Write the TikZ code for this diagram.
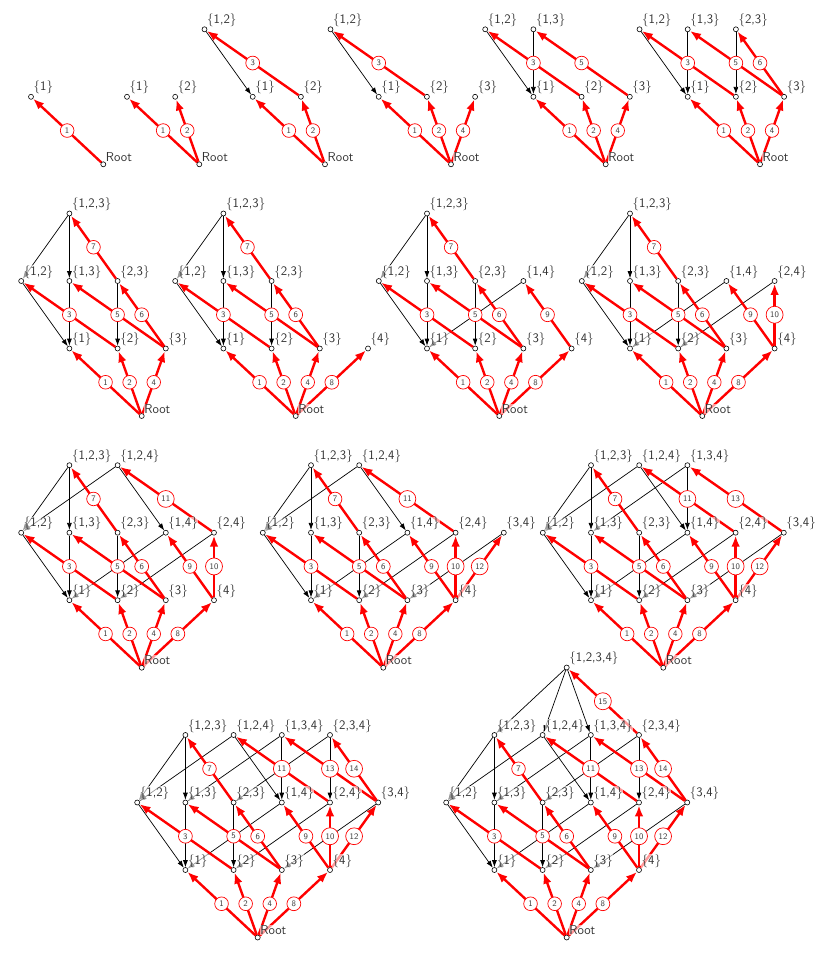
\documentclass[tikz,border=0pt]{standalone}
\usetikzlibrary{arrows.meta}
\tikzset{
 vtx/.style={circle,draw=black,fill=white,line width=0.6pt,inner sep=0pt,minimum size=5pt},
 vlabel/.style={anchor=south west,inner sep=0.5pt,fill=white,fill opacity=0.6,text opacity=1,text=black!80,font=\fontsize{13}{15}\selectfont\sffamily},
 treeedge/.style={draw=red,line width=2.4pt,-{Latex[length=11pt,width=8.5pt]}},
 crossedge/.style={draw=black,line width=0.7pt,-{Latex[length=7pt,width=5pt]}},
 num/.style={circle,draw=red,fill=white,line width=0.7pt,inner sep=2.3pt,text=black!75,font=\fontsize{8.5}{9}\selectfont\sffamily},
}
\newcommand\setlabel[1]{\ifcase#1 Root\or\{1\}\or\{2\}\or\{1,2\}\or\{3\}\or\{1,3\}\or\{2,3\}\or\{1,2,3\}\or\{4\}\or\{1,4\}\or\{2,4\}\or\{1,2,4\}\or\{3,4\}\or\{1,3,4\}\or\{2,3,4\}\or\{1,2,3,4\}\fi}
\newcommand\lattpanel[4]{%
 \foreach \j in {0,...,#2}{%
  \pgfmathsetmacro\lv{{0,1,1,2,1,2,2,3,1,2,2,3,2,3,3,4}[\j]}%
  \pgfmathsetmacro\xo{{0,-1.5,-0.5,-2.5,0.5,-1.5,-0.5,-1.5,1.5,0.5,1.5,-0.5,2.5,0.5,1.5,0}[\j]}%
  \node[vtx] (p#1n\j) at ({#3+48.2*\xo},{#4-67.5*\lv}) {};
 }
 \foreach \a/\b in {3/1,5/1,6/2,7/3,7/5,9/1,10/2,11/3,11/9,12/4,13/5,13/9,14/6,14/10,15/7,15/11,15/13}{%
  \ifnum\a>#2\relax\else\draw[crossedge] (p#1n\a) -- (p#1n\b);\fi
 }
 \foreach \c/\p in {1/0,2/0,3/2,4/0,5/4,6/4,7/6,8/0,9/8,10/8,11/10,12/8,13/12,14/12,15/14}{%
  \ifnum\c>#2\relax\else\draw[treeedge] (p#1n\p) -- (p#1n\c);\fi
 }
 \foreach \c/\p in {1/0,2/0,3/2,4/0,5/4,6/4,7/6,8/0,9/8,10/8,11/10,12/8,13/12,14/12,15/14}{%
  \ifnum\c>#2\relax\else\path (p#1n\p) -- node[num] (p#1e\c) {\c} (p#1n\c);\fi
 }
 \foreach \j in {0,...,#2}{%
  \node[vlabel] (p#1l\j) at (p#1n\j.north east) {\setlabel{\j}};
 }
}
\begin{document}
\begin{tikzpicture}[x=1pt,y=-1pt]
\useasboundingbox (0,0) rectangle (830,955);
\lattpanel{1}{1}{103.3}{164.3}
\lattpanel{2}{2}{199.3}{164.3}
\lattpanel{3}{3}{325}{164.3}
\lattpanel{4}{4}{451}{164.3}
\lattpanel{5}{5}{605.7}{164.3}
\lattpanel{6}{6}{760}{164.3}
\lattpanel{7}{7}{141.7}{416}
\lattpanel{8}{8}{295.7}{416}
\lattpanel{9}{9}{499.3}{416}
\lattpanel{10}{10}{702.3}{416}
\lattpanel{11}{11}{141.7}{667.7}
\lattpanel{12}{12}{383.3}{667.7}
\lattpanel{13}{13}{663.3}{667.7}
\lattpanel{14}{14}{257.7}{937.5}
\lattpanel{15}{15}{566.7}{937.5}
\end{tikzpicture}
\end{document}
